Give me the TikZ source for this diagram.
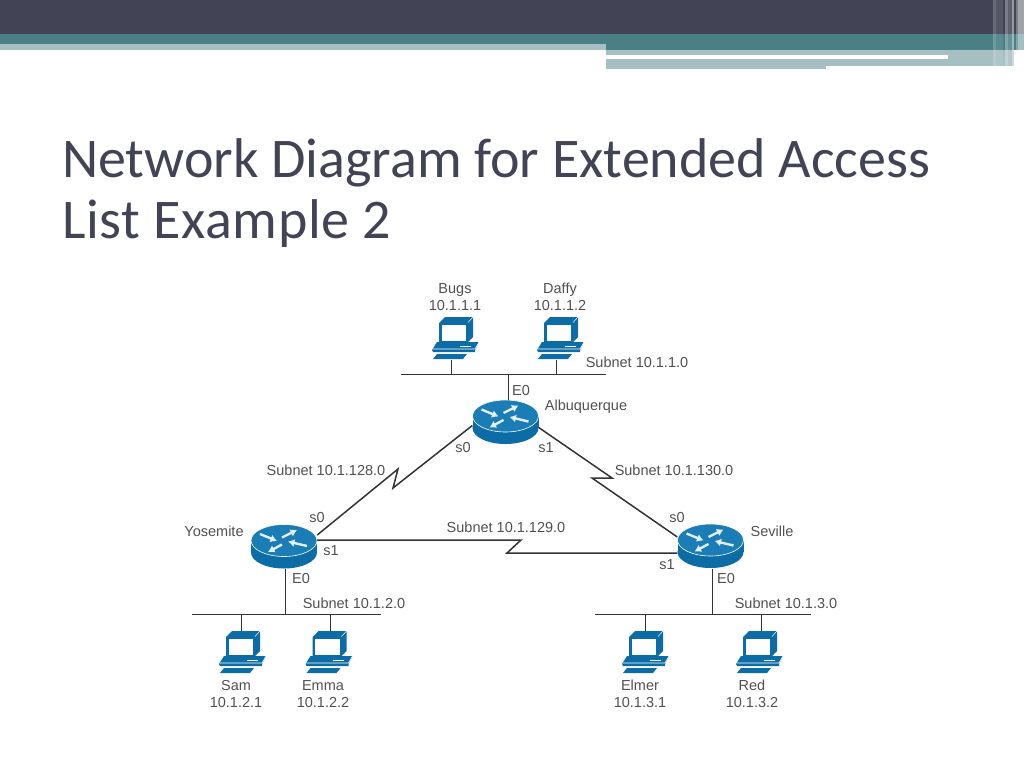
\documentclass[tikz,border=0pt]{standalone}
\usepackage{fontspec}
\usetikzlibrary{arrows.meta}
\setmainfont{Liberation Sans}
\newfontfamily\titlefont{Carlito}
\definecolor{headdark}{HTML}{424456}
\definecolor{headteal}{HTML}{4A8085}
\definecolor{headpale}{HTML}{A5BFC3}
\definecolor{netblue}{HTML}{0B6CA6}
\definecolor{nettop}{HTML}{1A7DB5}
\definecolor{labelgray}{HTML}{505050}
\definecolor{wireblack}{HTML}{333333}

% #1 name, #2 #3 middle of the box
\newcommand{\computer}[3]{
	\node (#1) at (#2,#3) [hostbox] {};
	\begin{scope}[shift={(#1.center)}]
		\fill[netblue] (-16.5,-15.5)--(-10.5,-21.5)--(17.5,-21.5)--(17.5,-1.5)--(12.5,3.5)--(-16.5,3.5)--cycle;
		\fill[white] (-14,-14) rectangle (10.5,2);
		\draw[white, line width=0.5pt] (12.5,-16)--(17.5,-21.5);
		\fill[netblue] (-23.5,11.5)--(-18.5,3.5)--(23.5,3.5)--(19.5,11.5)--(19.5,13.5)--(-22.5,13.5)--cycle;
		\draw[white, line width=0.6pt] (-23,10.5)--(19.5,10.5)--(23.5,3.5);
		\draw[white, line width=0.9pt] (4,7.5)--(15,7.5);
		\fill[netblue] (-22.5,20.5)--(-18.5,15.5)--(11.5,15.5)--(7.5,20.5)--cycle;
	\end{scope}
}
% #1 name, #2 #3 middle of the box
\newcommand{\router}[3]{
	\node (#1) at (#2,#3) [routerbox] {};
	\begin{scope}[shift={(#1.center)}, yshift=6.5pt]
		\fill[netblue] (0,12) ellipse [x radius=33, y radius=16];
		\fill[netblue] (-33,0) rectangle (33,12);
		\draw[white, fill=nettop, line width=0.6pt] (0,0) ellipse [x radius=33, y radius=16];
		\draw[routerarrow] (-2,-3)--(13,-10.5);
		\draw[routerarrow] (-24,-6.5)--(-7,0.5);
		\draw[routerarrow] (23,5.5)--(4,1);
		\draw[routerarrow] (-2,4)--(-16,11.5);
	\end{scope}
}

\begin{document}
\begin{tikzpicture}[x=1pt,y=-1pt]
	\tikzstyle{hostbox}=[draw=none,inner sep=0,minimum width=48pt,minimum height=43pt]
	\tikzstyle{routerbox}=[draw=none,inner sep=0,minimum width=66pt,minimum height=44pt]
	\tikzstyle{routerarrow}=[white!88!nettop,line width=2.4pt,-{Latex[length=6.5pt,width=8pt]}]
	\tikzstyle{tag}=[inner sep=0,text=labelgray,align=center,font=\fontsize{14.5}{17.5}\selectfont]
	\tikzstyle{wire}=[wireblack,line width=0.9pt]
	\tikzstyle{serial}=[wireblack,line width=1.5pt]
	\tikzstyle{heading}=[anchor=base west,inner sep=0,text=headdark,font=\titlefont\fontsize{56}{60}\selectfont]

	\useasboundingbox (0,0) rectangle (1024,768);

	% slide header
	\fill[headdark] (0,0) rectangle (1024,34);
	\fill[headteal] (0,34) rectangle (1024,50);
	\fill[headpale] (0,44) rectangle (606,50);
	\fill[white] (0,50) rectangle (606,70);
	\fill[headpale] (606,50) rectangle (1014,66);
	\fill[white] (606,55.5) rectangle (948,58.5);
	\fill[headpale] (606,66) rectangle (826,69);
	\fill[white,opacity=0.2] (993,0) rectangle (996,66);
	\fill[white,opacity=0.1] (996,0) rectangle (1003,66);
	\fill[white,opacity=0.3] (1005,0) rectangle (1008,69);
	\fill[white,opacity=0.15] (1008,0) rectangle (1012,69);
	\fill[white,opacity=0.45] (1012,0) rectangle (1014,69);
	\fill[white,opacity=0.3] (1016,0) rectangle (1018,69);
	\fill[white,opacity=0.5] (1018,0) rectangle (1024,69);

	\node (title1) at (62,177) [heading] {Network Diagram for Extended Access};
	\node (title2) at (62,238) [heading] {\addfontfeature{LetterSpace=1.1}List Example 2};

	% routers and computers
	\router{alb}{505.5}{422.5}
	\router{yos}{284}{547}
	\router{sev}{710.5}{546.5}
	\computer{bugs}{455.5}{338.5}
	\computer{daffy}{560.5}{338.5}
	\computer{sam}{242.5}{652.5}
	\computer{emma}{329}{652.5}
	\computer{elmer}{645.5}{652.5}
	\computer{red}{759.5}{652.5}

	% ethernet segments
	\coordinate (topL) at (401,374);
	\coordinate (topR) at (606,374);
	\coordinate (leftL) at (192,614);
	\coordinate (leftR) at (381,614);
	\coordinate (rightL) at (595,614);
	\coordinate (rightR) at (811,614);
	\draw[wire] (topL)--(topR);
	\draw[wire] (leftL)--(leftR);
	\draw[wire] (rightL)--(rightR);

	\coordinate (bugsTap) at (451,374);
	\coordinate (daffyTap) at (556,374);
	\coordinate (albTap) at (508,374);
	\coordinate (yosTap) at (285,614);
	\coordinate (samTap) at (241,614);
	\coordinate (emmaTap) at (330,614);
	\coordinate (sevTap) at (712,614);
	\coordinate (elmerTap) at (645,614);
	\coordinate (redTap) at (761,614);
	\draw[wire] (bugs.south -| bugsTap)--(bugsTap);
	\draw[wire] (daffy.south -| daffyTap)--(daffyTap);
	\draw[wire] (alb.north -| albTap)--(albTap);
	\draw[wire] (yos.south -| yosTap)--(yosTap);
	\draw[wire] (sam.north -| samTap)--(samTap);
	\draw[wire] (emma.north -| emmaTap)--(emmaTap);
	\draw[wire] (sev.south -| sevTap)--(sevTap);
	\draw[wire] (elmer.north -| elmerTap)--(elmerTap);
	\draw[wire] (red.north -| redTap)--(redTap);

	% serial links
	\coordinate (kinkA1) at (393,488);
	\coordinate (kinkA2) at (398,469);
	\coordinate (kinkB1) at (612,478);
	\coordinate (kinkB2) at (592,478);
	\coordinate (kinkC1) at (521,540);
	\coordinate (kinkC2) at (507,553);
	\draw[serial] ([yshift=-3pt]alb.west)--(kinkA1)--(kinkA2)--([yshift=12pt]yos.east);
	\draw[serial] ([yshift=-5pt]alb.east)--(kinkB1)--(kinkB2)--([yshift=9.5pt]sev.west);
	\draw[serial] ([yshift=7pt]yos.east)--(kinkC1)--(kinkC2)--([yshift=-6.5pt]sev.west);

	% labels
	\node (bugsText) at (455,297) [tag] {Bugs\\10.1.1.1};
	\node (daffyText) at (560,297) [tag] {Daffy\\10.1.1.2};
	\node (samText) at (236,694) [tag] {Sam\\10.1.2.1};
	\node (emmaText) at (323,694) [tag] {Emma\\10.1.2.2};
	\node (elmerText) at (640,694) [tag] {Elmer\\10.1.3.1};
	\node (redText) at (752,694) [tag] {Red\\10.1.3.2};
	\node (albText) at (586,407) [tag] {Albuquerque};
	\node (yosText) at (214,531) [tag] {Yosemite};
	\node (sevText) at (772,531) [tag] {Seville};
	\node (netTop) at (637,362) [tag] {Subnet 10.1.1.0};
	\node (netLeft) at (354,603) [tag] {Subnet 10.1.2.0};
	\node (netRight) at (786,603) [tag] {Subnet 10.1.3.0};
	\node (netA) at (326,470) [tag] {Subnet 10.1.128.0};
	\node (netB) at (674,470) [tag] {Subnet 10.1.130.0};
	\node (netC) at (506,527) [tag] {Subnet 10.1.129.0};
	\node (albE) at (521,391) [tag] {E0};
	\node (albS0) at (463,448) [tag] {s0};
	\node (albS1) at (546,448) [tag] {s1};
	\node (yosS0) at (317,518) [tag] {s0};
	\node (yosS1) at (331,551) [tag] {s1};
	\node (yosE) at (301,578) [tag] {E0};
	\node (sevS0) at (677,518) [tag] {s0};
	\node (sevS1) at (667,565) [tag] {s1};
	\node (sevE) at (726,578) [tag] {E0};
\end{tikzpicture}
\end{document}
